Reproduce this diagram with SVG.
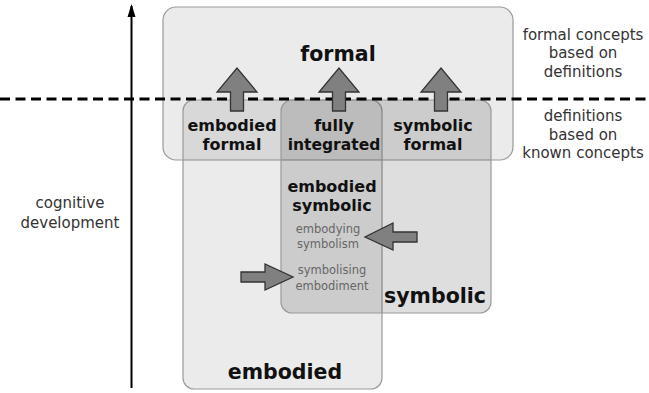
<svg xmlns="http://www.w3.org/2000/svg" width="649" height="393" viewBox="0 0 649 393">
<style>
.box{stroke:#9a9a9a;stroke-width:1.2}
.b{font-family:"DejaVu Sans","Open Sans",sans-serif;font-weight:bold;fill:#111;text-anchor:middle}
.n{font-family:"DejaVu Sans","Open Sans",sans-serif;fill:#333;text-anchor:middle;font-size:15px}
.g{font-family:"DejaVu Sans","Open Sans",sans-serif;fill:#666;text-anchor:middle;font-size:11.5px}
.blk{fill:#808080;stroke:#333;stroke-width:1.3;stroke-linejoin:miter}
</style>
<defs>
<marker id="ah" markerWidth="13" markerHeight="10" refX="11" refY="5" orient="auto" markerUnits="userSpaceOnUse" viewBox="0 0 13 10">
<path d="M0,1 L13,5 L0,9 Z" fill="#000"/>
</marker>
</defs>
<rect width="649" height="393" fill="#fff"/>
<g id="formal">
<rect class="box" x="163" y="7" width="350" height="153" rx="13" fill="#000" fill-opacity="0.08"/>
<text class="b" x="338" y="61" font-size="20.5">formal</text>
</g>
<g id="embodied">
<rect class="box" x="183" y="100" width="199" height="289" rx="11" fill="#000" fill-opacity="0.08"/>
<text class="b" x="285" y="379" font-size="20.5">embodied</text>
</g>
<g id="symbolic">
<rect class="box" x="281" y="100" width="210" height="213" rx="11" fill="#000" fill-opacity="0.13"/>
<text class="b" x="435" y="303" font-size="20.5">symbolic</text>
</g>
<g id="connectors">
<line x1="0" y1="99" x2="649" y2="99" stroke="#000" stroke-width="3" stroke-dasharray="10,5.5"/>
<line x1="131.5" y1="388" x2="131.5" y2="6" stroke="#000" stroke-width="2" marker-end="url(#ah)"/>
<path class="blk" d="M230.5,111 V92 H217 L237,68 L257,92 H243.5 V111 Z"/>
<path class="blk" d="M332.5,111 V92 H319 L339,68 L359,92 H345.5 V111 Z"/>
<path class="blk" d="M434.5,111 V92 H421 L441,68 L461,92 H447.5 V111 Z"/>
<path class="blk" d="M417,232 H393 V223 L365,237 L393,250 V242 H417 Z"/>
<path class="blk" d="M241,272 H265 V264 L293,277 L265,290 V282 H241 Z"/>
</g>
<g id="embodied-formal">
<text class="b" x="232" y="131" font-size="16">embodied</text>
<text class="b" x="232" y="150" font-size="16">formal</text>
</g>
<g id="fully-integrated">
<text class="b" x="334" y="131" font-size="16">fully</text>
<text class="b" x="334" y="150" font-size="15.5">integrated</text>
</g>
<g id="symbolic-formal">
<text class="b" x="433" y="131" font-size="16">symbolic</text>
<text class="b" x="433" y="150" font-size="16">formal</text>
</g>
<g id="embodied-symbolic">
<text class="b" x="332" y="192" font-size="16">embodied</text>
<text class="b" x="332" y="211" font-size="16">symbolic</text>
<text class="g" x="328" y="233">embodying</text>
<text class="g" x="328" y="248">symbolism</text>
<text class="g" x="332" y="274">symbolising</text>
<text class="g" x="332" y="290">embodiment</text>
</g>
<g id="labels">
<text class="n" x="70" y="208">cognitive</text>
<text class="n" x="70" y="228">development</text>
<text class="n" x="583" y="40">formal concepts</text>
<text class="n" x="583" y="58">based on</text>
<text class="n" x="583" y="77">definitions</text>
<text class="n" x="583" y="121">definitions</text>
<text class="n" x="583" y="140">based on</text>
<text class="n" x="583" y="158">known concepts</text>
</g>
</svg>
